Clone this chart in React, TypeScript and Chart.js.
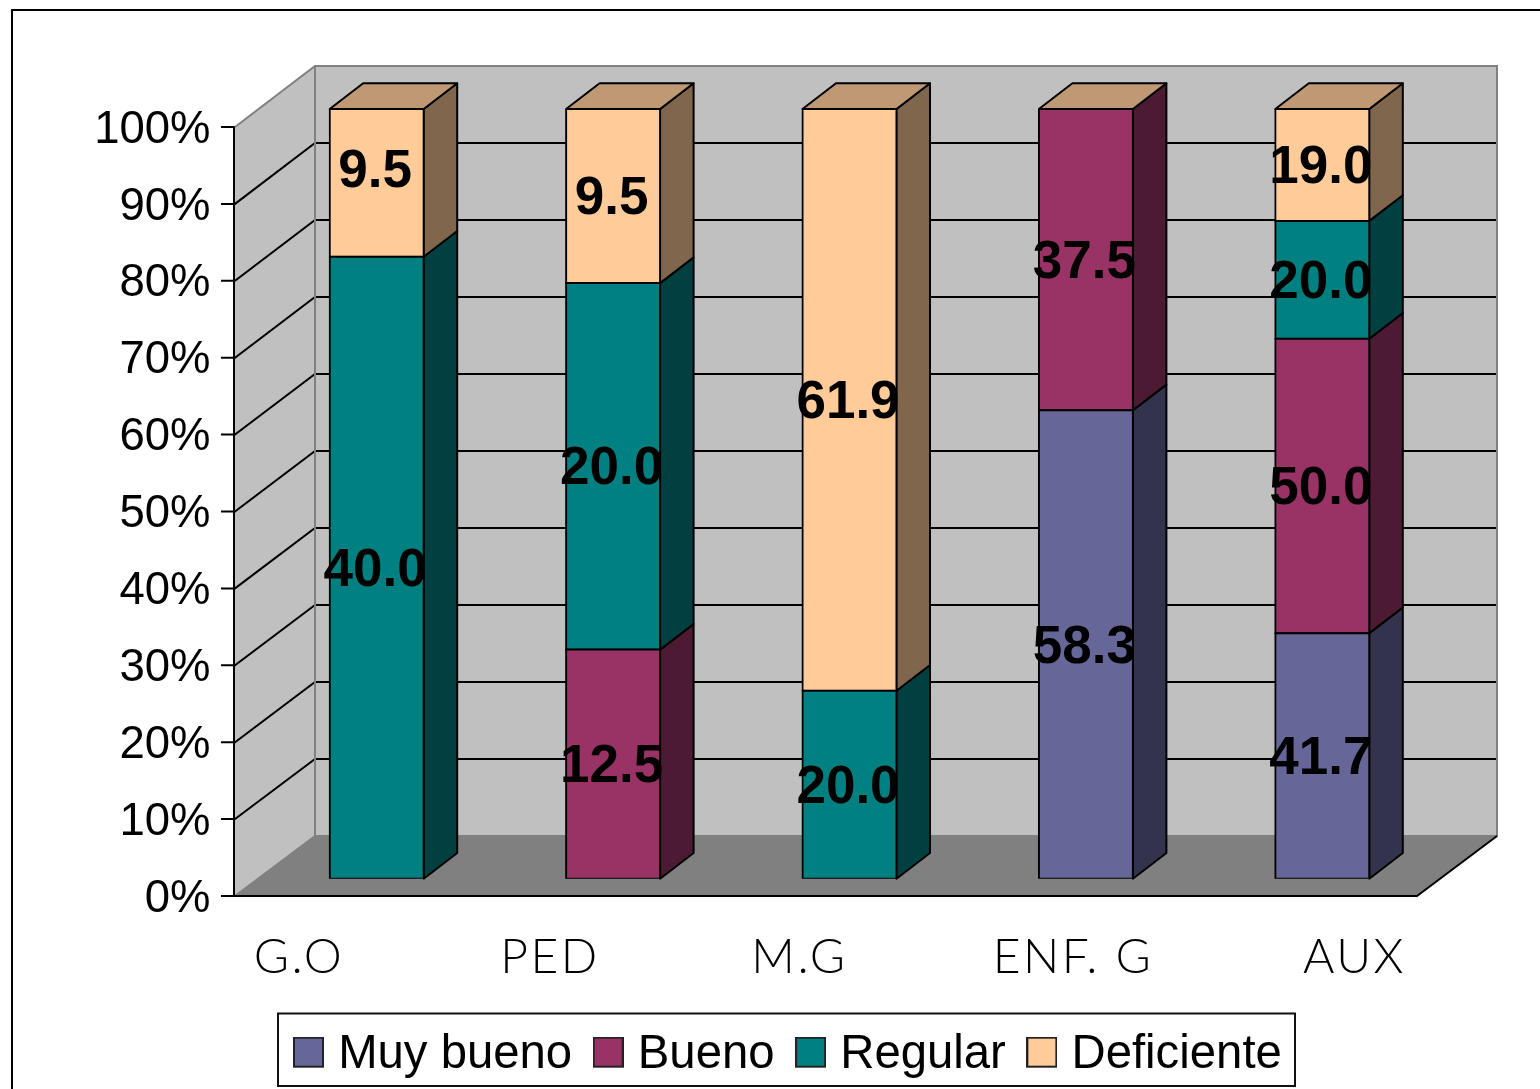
import React, { useEffect, useRef } from "react";
import { Chart, registerables } from "chart.js";

Chart.register(...registerables);

const categories = ["G.O", "PED", "M.G", "ENF. G", "AUX"];
const seriesNames = ["Muy bueno", "Bueno", "Regular", "Deficiente"];
const muyBueno = [0, 0, 0, 58.3, 41.7];
const bueno = [0, 12.5, 0, 37.5, 50.0];
const regular = [40.0, 20.0, 20.0, 0, 20.0];
const deficiente = [9.5, 9.5, 61.9, 0, 19.0];
const rawSeries = [muyBueno, bueno, regular, deficiente];
const yTicks = [0, 10, 20, 30, 40, 50, 60, 70, 80, 90, 100];

const frontColors = ["#666699", "#993366", "#008080", "#FFCC99"];
const sideColors = ["#33334D", "#4D1A33", "#004040", "#80664D"];
const topColor = "#BF9973";

const labelCenters = [299, 550, 799.5, 1073, 1354.5];
const DX = 33.5;
const DY = 25.7;

const totals = categories.map((_, i) => rawSeries.reduce((s, a) => s + a[i], 0));
const percent = (a: number[]) => a.map((v, i) => (v === 0 ? null : (v / totals[i]) * 100));

const scene = {
  id: "scene",
  beforeDraw(chart: any) {
    const { ctx, scales } = chart;
    const y = scales.y;
    const frac = (v: number) => (y.bottom - y.getPixelForValue(v)) / (y.bottom - y.top);
    const fy = (v: number) => 896 - frac(v) * 769;
    const by = (v: number) => 836 - frac(v) * 770;
    ctx.save();
    ctx.fillStyle = "#fff";
    ctx.fillRect(0, 0, chart.width, chart.height);
    ctx.strokeStyle = "#000";
    ctx.lineWidth = 2;
    ctx.beginPath();
    ctx.moveTo(12, 1095);
    ctx.lineTo(12, 10);
    ctx.lineTo(1545, 10);
    ctx.stroke();

    ctx.fillStyle = "#C0C0C0";
    ctx.fillRect(315, 66, 1182, 770);
    ctx.beginPath();
    ctx.moveTo(235, 127);
    ctx.lineTo(315, 66);
    ctx.lineTo(315, 836);
    ctx.lineTo(235, 896);
    ctx.closePath();
    ctx.fill();
    ctx.fillStyle = "#808080";
    ctx.beginPath();
    ctx.moveTo(235, 896);
    ctx.lineTo(315, 836);
    ctx.lineTo(1497, 836);
    ctx.lineTo(1417, 896);
    ctx.closePath();
    ctx.fill();

    ctx.strokeStyle = "#000";
    yTicks.forEach((v) => {
      ctx.beginPath();
      ctx.moveTo(221, fy(v));
      ctx.lineTo(235, fy(v));
      if (v > 0 && v < 100) {
        ctx.lineTo(315, by(v));
        ctx.lineTo(1497, by(v));
      }
      ctx.stroke();
    });

    ctx.strokeStyle = "#808080";
    ctx.beginPath();
    ctx.moveTo(235, 127);
    ctx.lineTo(315, 66);
    ctx.lineTo(1497, 66);
    ctx.lineTo(1497, 836);
    ctx.lineTo(315, 836);
    ctx.moveTo(315, 66);
    ctx.lineTo(315, 836);
    ctx.lineTo(235, 896);
    ctx.stroke();

    ctx.strokeStyle = "#000";
    ctx.beginPath();
    ctx.moveTo(234, 127);
    ctx.lineTo(234, 896);
    ctx.lineTo(1417, 896);
    ctx.lineTo(1497, 836);
    ctx.stroke();

    ctx.strokeStyle = "#111";
    ctx.strokeRect(278, 1013.5, 1017, 72.5);
    ctx.restore();
  },
  beforeDatasetsDraw(chart: any) {
    const { ctx } = chart;
    ctx.save();
    ctx.strokeStyle = "#000";
    ctx.lineWidth = 2;
    ctx.lineJoin = "round";
    const poly = (pts: number[][], fill: string) => {
      ctx.fillStyle = fill;
      ctx.beginPath();
      pts.forEach((p, i) => (i ? ctx.lineTo(p[0], p[1]) : ctx.moveTo(p[0], p[1])));
      ctx.closePath();
      ctx.fill();
      ctx.stroke();
    };
    categories.forEach((_, i) => {
      let top: any = null;
      rawSeries.forEach((series, d) => {
        if (series[i] === 0) return;
        const el = chart.getDatasetMeta(d).data[i];
        const r = el.x + el.width / 2;
        poly([[r, el.y], [r + DX, el.y - DY], [r + DX, el.base - DY], [r, el.base]], sideColors[d]);
        top = el;
      });
      if (top) {
        const l = top.x - top.width / 2;
        const r = top.x + top.width / 2;
        const t = top.y;
        poly([[l, t], [l + DX, t - DY], [r + DX, t - DY], [r, t]], topColor);
      }
    });
    ctx.restore();
  },
  afterDatasetsDraw(chart: any) {
    const { ctx } = chart;
    ctx.save();
    ctx.font = "bold 53px 'Liberation Sans'";
    ctx.fillStyle = "#000";
    ctx.textAlign = "center";
    ctx.textBaseline = "middle";
    rawSeries.forEach((series, d) => {
      series.forEach((v, i) => {
        if (v === 0) return;
        const el = chart.getDatasetMeta(d).data[i];
        const nudge = d === 3 && i === 0 ? -14 : 0;
        ctx.fillText(v.toFixed(1), el.x - 1.5, (el.y + el.base) / 2 + nudge + 3.5);
      });
    });
    ctx.restore();
  },
  afterLayout(chart: any) {
    const lg = chart.legend;
    const pad = lg.options.labels.padding;
    lg.left = 302.5 - pad;
    lg.right = 1600;
    lg.top = 1055 - 23.5 - pad;
    const s = chart.scales.xLabels;
    if (!s.__spaced) {
      s.__spaced = true;
      const orig = s.drawLabels;
      s.drawLabels = function (area: any) {
        chart.ctx.save();
        chart.ctx.letterSpacing = "2.5px";
        orig.call(this, area);
        chart.ctx.restore();
      };
    }
  },
};

function swatch(color: string) {
  const c = document.createElement("canvas");
  c.width = 31;
  c.height = 37;
  const g = c.getContext("2d")!;
  g.fillStyle = color;
  g.fillRect(0, 0, 31, 31);
  g.strokeStyle = "#222";
  g.lineWidth = 2;
  g.strokeRect(1, 1, 29, 29);
  return c;
}

export default function App() {
  const ref = useRef<HTMLCanvasElement>(null);
  useEffect(() => {
    const swatches = frontColors.map(swatch);
    const chart = new Chart(ref.current!, {
      type: "bar",
      data: {
        labels: categories,
        datasets: seriesNames.map((name, d) => ({
          label: name,
          data: percent(rawSeries[d]),
          backgroundColor: frontColors[d],
          borderColor: "#000",
          borderWidth: 2,
          borderSkipped: false,
          inflateAmount: 1,
          barPercentage: 0.3976,
          categoryPercentage: 1,
        })),
      },
      options: {
        responsive: false,
        animation: false,
        layout: { padding: { left: 0, right: 99.5, top: 109, bottom: 0 } },
        plugins: {
          tooltip: { enabled: false },
          legend: {
            position: "bottom",
            align: "start",
            labels: {
              usePointStyle: true,
              pointStyleWidth: 12,
              padding: 30,
              color: "#000",
              font: { family: "'Liberation Sans'", size: 47.3 },
              generateLabels: () =>
                seriesNames.map((name, d) => ({
                  text: name,
                  pointStyle: swatches[d],
                  fillStyle: frontColors[d],
                  strokeStyle: "#000",
                  lineWidth: 0,
                  hidden: false,
                  datasetIndex: d,
                })),
            },
          },
        },
        scales: {
          x: {
            stacked: true,
            grid: { display: false },
            border: { display: false },
            ticks: { display: false },
            afterFit: (s: any) => {
              s.height = 0;
            },
          },
          xLabels: {
            type: "linear",
            position: "bottom",
            offset: false,
            min: 258.5,
            max: 1440.5,
            grid: { display: false, drawTicks: false },
            border: { display: false },
            afterBuildTicks: (s: any) => {
              s.ticks = labelCenters.map((value) => ({ value }));
            },
            afterFit: (s: any) => {
              s.height = 123;
            },
            ticks: {
              autoSkip: false,
              maxRotation: 0,
              minRotation: 0,
              padding: 50,
              color: "#000",
              font: { family: "Lato", size: 48, weight: "300" },
              callback: (_v: any, i: number) => categories[i],
            },
          },
          y: {
            stacked: true,
            min: 0,
            max: 100,
            grid: { display: false, drawTicks: false },
            border: { display: false },
            afterFit: (s: any) => {
              s.width = 258.5;
            },
            ticks: {
              stepSize: 10,
              padding: 48,
              labelOffset: 21,
              color: "#000",
              font: { family: "'Liberation Sans'", size: 45.5 },
              callback: (v: any) => `${v}%`,
            },
          },
        },
      } as any,
      plugins: [scene],
    });
    return () => chart.destroy();
  }, []);
  return (
    <div style={{ position: "fixed", left: 0, top: 0 }}>
      <canvas ref={ref} width={1540} height={1089} style={{ display: "block" }} />
    </div>
  );
}
